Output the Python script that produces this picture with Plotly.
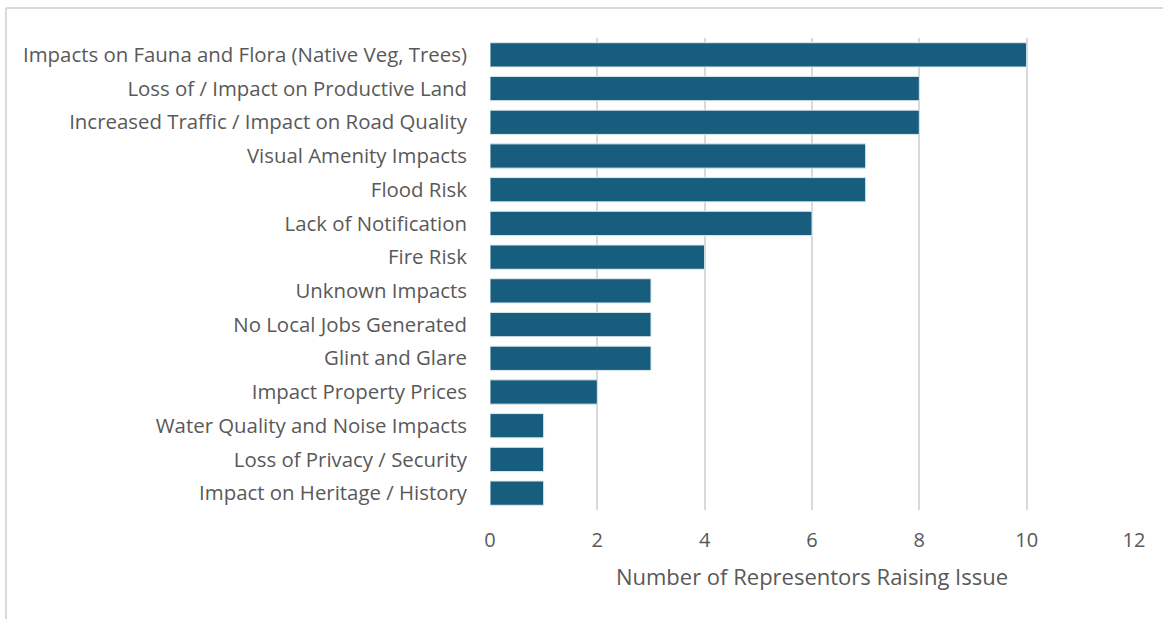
import plotly.graph_objects as go

categories = [
    "Impacts on Fauna and Flora (Native Veg, Trees)",
    "Loss of / Impact on Productive Land",
    "Increased Traffic / Impact on Road Quality",
    "Visual Amenity Impacts",
    "Flood Risk",
    "Lack of Notification",
    "Fire Risk",
    "Unknown Impacts",
    "No Local Jobs Generated",
    "Glint and Glare",
    "Impact Property Prices",
    "Water Quality and Noise Impacts",
    "Loss of Privacy / Security",
    "Impact on Heritage / History",
]
values = [10, 8, 8, 7, 7, 6, 4, 3, 3, 3, 2, 1, 1, 1]
x_ticks = [0, 2, 4, 6, 8, 10, 12]

W, H = 1163, 619
L, R, T, B = 490, 29, 38, 109
pw, ph = W - L - R, H - T - B

fig = go.Figure(go.Bar(
    x=values, y=categories, orientation="h",
    marker=dict(color="#175E7E", line=dict(color="#dfe9ee", width=1)),
    width=0.72,
))

border = "#d9d9d9"
bx = (6 - L) / pw
by = 1 + (T - 8) / ph
fig.add_shape(type="line", xref="paper", yref="paper", x0=bx, x1=(W - L) / pw + 0.1, y0=by, y1=by,
              line=dict(color=border, width=2))
fig.add_shape(type="line", xref="paper", yref="paper", x0=bx, x1=bx, y0=by, y1=-1,
              line=dict(color=border, width=2))

font_family = "Open Sans"
fig.update_layout(
    width=W, height=H,
    margin=dict(l=L, r=R, t=T, b=B),
    plot_bgcolor="white", paper_bgcolor="white",
    font=dict(family=font_family, color="#595959", size=20),
    showlegend=False,
    xaxis=dict(
        range=[0, 12], tickvals=x_ticks, showgrid=True, gridcolor="#d9d9d9", gridwidth=2,
        zeroline=False, showline=False, ticks="", ticklabelstandoff=16,
        tickfont=dict(size=20, color="#595959"),
        title=dict(text="Number of Representors Raising Issue", font=dict(size=22, color="#595959"), standoff=17),
    ),
    yaxis=dict(
        autorange="reversed", showgrid=False, zeroline=False, showline=False, ticks="",
        ticklabelstandoff=22, tickfont=dict(size=20.4, color="#595959"),
    ),
)

fig.write_html("out.html")
